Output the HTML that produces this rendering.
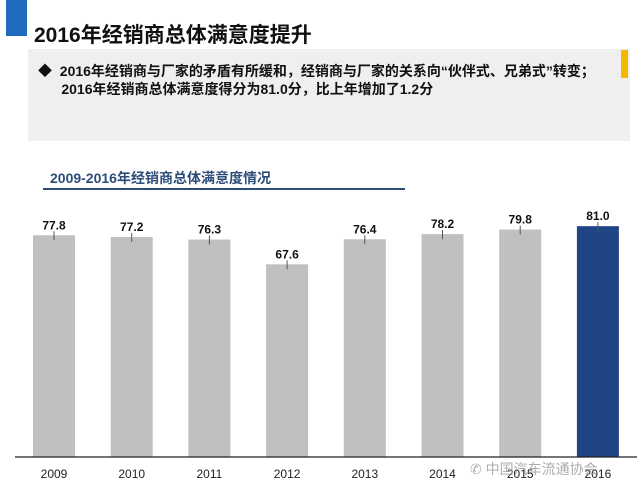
<!DOCTYPE html>
<html><head><meta charset="utf-8"><style>
body{margin:0;width:640px;height:493px;background:#fff;position:relative;overflow:hidden;font-family:"Liberation Sans","Noto Sans CJK SC",sans-serif}
.a{position:absolute}
</style></head><body>
<div class="a" style="left:6px;top:0;width:21px;height:36px;background:#1f6cbf"></div>
<div class="a" style="left:34px;top:19px;font-size:21px;font-weight:bold;color:#111;white-space:nowrap">2016年经销商总体满意度提升</div>
<div class="a" style="left:28px;top:49px;width:602px;height:92px;background:#efefef"></div>
<div class="a" style="left:621px;top:50px;width:7px;height:28px;background:#f5b800"></div>
<div class="a" style="left:38px;top:62px;font-size:14px;font-weight:bold;line-height:18px;color:#111;white-space:nowrap">◆&nbsp; 2016年经销商与厂家的矛盾有所缓和，经销商与厂家的关系向“伙伴式、兄弟式”转变；<br>&nbsp;&nbsp;&nbsp;&nbsp;&nbsp; 2016年经销商总体满意度得分为81.0分，比上年增加了1.2分</div>
<div class="a" style="left:50px;top:168px;font-size:14px;font-weight:bold;color:#2c4d7a;white-space:nowrap">2009-2016年经销商总体满意度情况</div>
<div class="a" style="left:43px;top:188px;width:362px;height:2px;background:#2c4d7a"></div>
<svg class="a" style="left:0;top:0" width="640" height="493" id="chart"></svg>
<script>
const years=["2009","2010","2011","2012","2013","2014","2015","2016"];
const scores=[77.8,77.2,76.3,67.6,76.4,78.2,79.8,81.0];
const labels=["77.8","77.2","76.3","67.6","76.4","78.2","79.8","81.0"];
const svg=document.getElementById('chart');
const NS="http://www.w3.org/2000/svg";
const base=457,k=2.85,x0=33,step=77.7,bw=42;
const y=v=>base-v*k;
const xs=i=>x0+i*step;
function mk(t,a){const e=document.createElementNS(NS,t);for(const n in a)e.setAttribute(n,a[n]);svg.appendChild(e);return e;}
years.forEach((yr,i)=>{
  const r=mk('rect',{x:xs(i),y:y(scores[i]),width:bw,height:scores[i]*k,fill:i===7?'#1f4585':'#c0bfc1'});
  
  
  const tk=mk('line',{x1:xs(i)+bw/2,x2:xs(i)+bw/2,y1:y(scores[i])-4,y2:y(scores[i])+5,stroke:'#555','stroke-width':1});
  
  
  const t=mk('text',{x:xs(i)+bw/2,y:y(scores[i])-6,'text-anchor':'middle','font-size':12,'font-weight':'bold',fill:'#111'});
  t.textContent=labels[i];
  
  
  const c=mk('text',{x:xs(i)+bw/2,y:478,'text-anchor':'middle','font-size':12,fill:'#222'});
  c.textContent=yr;
  
  
});
const ax=mk('line',{x1:15,x2:637,y1:base,y2:base,stroke:'#222','stroke-width':1.3});


const w=mk('text',{x:470,y:474,'font-size':14,fill:'#999','opacity':0.8});
w.textContent='✆ 中国汽车流通协会';


</script>
</body></html>
